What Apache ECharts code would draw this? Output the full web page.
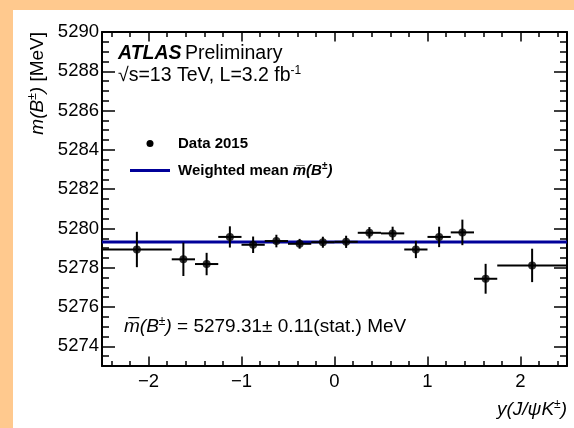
<!DOCTYPE html>
<html>
<head>
<meta charset="utf-8">
<script src="https://cdn.jsdelivr.net/npm/echarts@6/dist/echarts.min.js"></script>
<style>
  html, body { margin: 0; padding: 0; background: #ffc98e; }
  #chart { width: 574px; height: 428px; }
</style>
</head>
<body>
<div id="chart"></div>
<script>
// Rapidity bins of the J/psi K candidates
const binLow  = [-2.5, -1.75, -1.5, -1.25, -1.0, -0.75, -0.5, -0.25, 0.0, 0.25, 0.5, 0.75, 1.0, 1.25, 1.5, 1.75];
const binHigh = [-1.75, -1.5, -1.25, -1.0, -0.75, -0.5, -0.25, 0.0, 0.25, 0.5, 0.75, 1.0, 1.25, 1.5, 1.75, 2.5];
// Fitted B+- mass per bin [MeV] and its statistical uncertainty
const massValues = [5278.93, 5278.43, 5278.19, 5279.57, 5279.17, 5279.36, 5279.22, 5279.30,
                    5279.32, 5279.78, 5279.75, 5278.93, 5279.57, 5279.80, 5277.44, 5278.12];
const statErrors = [0.90, 0.85, 0.57, 0.54, 0.42, 0.32, 0.25, 0.28,
                    0.31, 0.29, 0.34, 0.44, 0.52, 0.65, 0.76, 0.85];
const weightedMean = 5279.31;
const weightedMeanErr = 0.11;

// Axis ranges and tick labels
const xRange = [-2.5, 2.5];
const yRange = [5273, 5290];
const xMajorTicks = [-2, -1, 0, 1, 2];
const yMajorTicks = [5274, 5276, 5278, 5280, 5282, 5284, 5286, 5288, 5290];

// Minor ticks: every 0.2 in y(J/psi K), every 0.5 MeV in mass
const xMinorTicks = [];
for (let i = -12; i <= 12; i++) { if (i % 5 !== 0) xMinorTicks.push(i / 5); }
const yMinorTicks = [];
for (let i = yRange[0] * 2; i <= yRange[1] * 2; i++) { const v = i / 2; if (v % 2 !== 0) yMinorTicks.push(v); }

const FONT = 'Liberation Sans, Arial, Helvetica, sans-serif';
const BLUE = '#000099';
const minus = v => (v < 0 ? '\u2212' + Math.abs(v) : String(v));

function xAxisDef(position, ticks, len, withLine, withLabels) {
  return {
    type: 'value', min: xRange[0], max: xRange[1], position: position,
    axisLine: { show: withLine, onZero: false, lineStyle: { color: '#000', width: 2 } },
    axisTick: { show: true, inside: true, length: len, customValues: ticks, lineStyle: { color: '#000', width: 1.5 } },
    axisLabel: { show: withLabels, customValues: ticks, formatter: minus, color: '#000', fontSize: 18.5, fontFamily: FONT, margin: 6 },
    splitLine: { show: false }
  };
}
function yAxisDef(position, ticks, len, withLine, withLabels) {
  return {
    type: 'value', min: yRange[0], max: yRange[1], position: position,
    axisLine: { show: withLine, onZero: false, lineStyle: { color: '#000', width: 2 } },
    axisTick: { show: true, inside: true, length: len, customValues: ticks, lineStyle: { color: '#000', width: 1.5 } },
    axisLabel: { show: withLabels, customValues: ticks, formatter: v => String(v), color: '#000', fontSize: 18.5, fontFamily: FONT, margin: 3 },
    splitLine: { show: false }
  };
}

const binCenters = binLow.map((lo, i) => (lo + binHigh[i]) / 2);
const errorData = binLow.map((lo, i) => [lo, binHigh[i], binCenters[i], massValues[i], statErrors[i]]);
const pointData = binCenters.map((x, i) => [x, massValues[i]]);

const chart = echarts.init(document.getElementById('chart'), null, { renderer: 'canvas' });
chart.setOption({
  backgroundColor: '#ffc98e',
  animation: false,
  textStyle: { fontFamily: FONT, color: '#000' },
  grid: { left: 102, right: 7, top: 32, bottom: 62, containLabel: false },
  xAxis: [
    xAxisDef('bottom', xMajorTicks, 9.5, true, true),
    xAxisDef('bottom', xMinorTicks, 5, false, false),
    xAxisDef('top', xMajorTicks, 9.5, true, false),
    xAxisDef('top', xMinorTicks, 5, false, false)
  ],
  yAxis: [
    yAxisDef('left', yMajorTicks, 13, true, true),
    yAxisDef('left', yMinorTicks, 7, false, false),
    yAxisDef('right', yMajorTicks, 13, true, false),
    yAxisDef('right', yMinorTicks, 7, false, false)
  ],
  series: [
    {
      name: 'Weighted mean', type: 'line', xAxisIndex: 0, yAxisIndex: 0,
      data: [[xRange[0], weightedMean], [xRange[1], weightedMean]],
      symbol: 'none', lineStyle: { color: BLUE, width: 3 }, z: 3
    },
    {
      name: 'Data 2015 errors', type: 'custom', xAxisIndex: 0, yAxisIndex: 0,
      data: errorData, encode: { x: [0, 1, 2], y: 3 }, z: 4,
      renderItem: function (params, api) {
        const lo = api.value(0), hi = api.value(1), xc = api.value(2), y = api.value(3), e = api.value(4);
        const pL = api.coord([lo, y]), pR = api.coord([hi, y]);
        const pT = api.coord([xc, y + e]), pB = api.coord([xc, y - e]);
        const style = { stroke: '#000', lineWidth: 2 };
        return {
          type: 'group', children: [
            { type: 'line', shape: { x1: pL[0], y1: pL[1], x2: pR[0], y2: pR[1] }, style: style },
            { type: 'line', shape: { x1: pT[0], y1: pT[1], x2: pB[0], y2: pB[1] }, style: style }
          ]
        };
      }
    },
    {
      name: 'Data 2015', type: 'scatter', xAxisIndex: 0, yAxisIndex: 0,
      data: pointData, symbol: 'circle', symbolSize: 8,
      itemStyle: { color: '#000' }, z: 5
    }
  ],
  graphic: [
    { type: 'rect', z: -10, silent: true, shape: { x: 13, y: 10, width: 561, height: 418 }, style: { fill: '#fff' } },
    {
      type: 'text', x: 118, y: 54, z: 10,
      style: {
        text: '{a|ATLAS} {b|Preliminary}', verticalAlign: 'middle',
        rich: {
          a: { fontFamily: FONT, fontSize: 19.5, fontWeight: 'bold', fontStyle: 'italic', fill: '#000' },
          b: { fontFamily: FONT, fontSize: 19.5, fill: '#000' }
        }
      }
    },
    {
      type: 'text', x: 118, y: 76, z: 10,
      style: {
        text: '{b|\u221As=13 TeV, L=3.2 fb}{s|-1}', verticalAlign: 'middle',
        rich: {
          b: { fontFamily: FONT, fontSize: 19.5, lineHeight: 22, fill: '#000' },
          s: { fontFamily: FONT, fontSize: 12, lineHeight: 12, verticalAlign: 'top', fill: '#000' }
        }
      }
    },
    { type: 'circle', z: 10, shape: { cx: 150, cy: 143.5, r: 3.5 }, style: { fill: '#000' } },
    {
      type: 'text', x: 178, y: 143.5, z: 10,
      style: { text: 'Data 2015', fontFamily: FONT, fontSize: 15, fontWeight: 'bold', fill: '#000', verticalAlign: 'middle' }
    },
    { type: 'line', z: 10, shape: { x1: 130, y1: 170.5, x2: 170, y2: 170.5 }, style: { stroke: BLUE, lineWidth: 3 } },
    {
      type: 'text', x: 178, y: 170.5, z: 10,
      style: {
        text: '{b|Weighted mean }{i|m\u0305(B}{s|\u00B1}{i|)}', verticalAlign: 'middle',
        rich: {
          b: { fontFamily: FONT, fontSize: 15, fontWeight: 'bold', lineHeight: 18, fill: '#000' },
          i: { fontFamily: FONT, fontSize: 15, fontWeight: 'bold', fontStyle: 'italic', lineHeight: 18, fill: '#000' },
          s: { fontFamily: FONT, fontSize: 10, fontWeight: 'bold', lineHeight: 10, verticalAlign: 'top', fill: '#000' }
        }
      }
    },
    {
      type: 'text', x: 124, y: 327, z: 10,
      style: {
        text: '{i|m\u0305(B}{s|\u00B1}{i|)}{b| = ' + weightedMean.toFixed(2) + '\u00B1 ' + weightedMeanErr.toFixed(2) + '(stat.) MeV}',
        verticalAlign: 'middle',
        rich: {
          b: { fontFamily: FONT, fontSize: 19, lineHeight: 22, fill: '#000' },
          i: { fontFamily: FONT, fontSize: 19, fontStyle: 'italic', lineHeight: 22, fill: '#000' },
          s: { fontFamily: FONT, fontSize: 12, lineHeight: 12, verticalAlign: 'top', fill: '#000' }
        }
      }
    },
    {
      type: 'text', x: 38, y: 32, z: 10, rotation: Math.PI / 2,
      style: {
        text: '{i|m(B}{s|\u00B1}{i|)}{b| [MeV]}', align: 'right', verticalAlign: 'middle',
        rich: {
          b: { fontFamily: FONT, fontSize: 19, lineHeight: 22, fill: '#000' },
          i: { fontFamily: FONT, fontSize: 19, fontStyle: 'italic', lineHeight: 22, fill: '#000' },
          s: { fontFamily: FONT, fontSize: 12, lineHeight: 12, verticalAlign: 'top', fill: '#000' }
        }
      }
    },
    {
      type: 'text', x: 567, y: 410, z: 10,
      style: {
        text: '{i|y(J/\u03C8K}{s|\u00B1}{i|)}', align: 'right', verticalAlign: 'middle',
        rich: {
          i: { fontFamily: FONT, fontSize: 19, fontStyle: 'italic', lineHeight: 22, fill: '#000' },
          s: { fontFamily: FONT, fontSize: 12, lineHeight: 12, verticalAlign: 'top', fill: '#000' }
        }
      }
    }
  ]
});
</script>
</body>
</html>
